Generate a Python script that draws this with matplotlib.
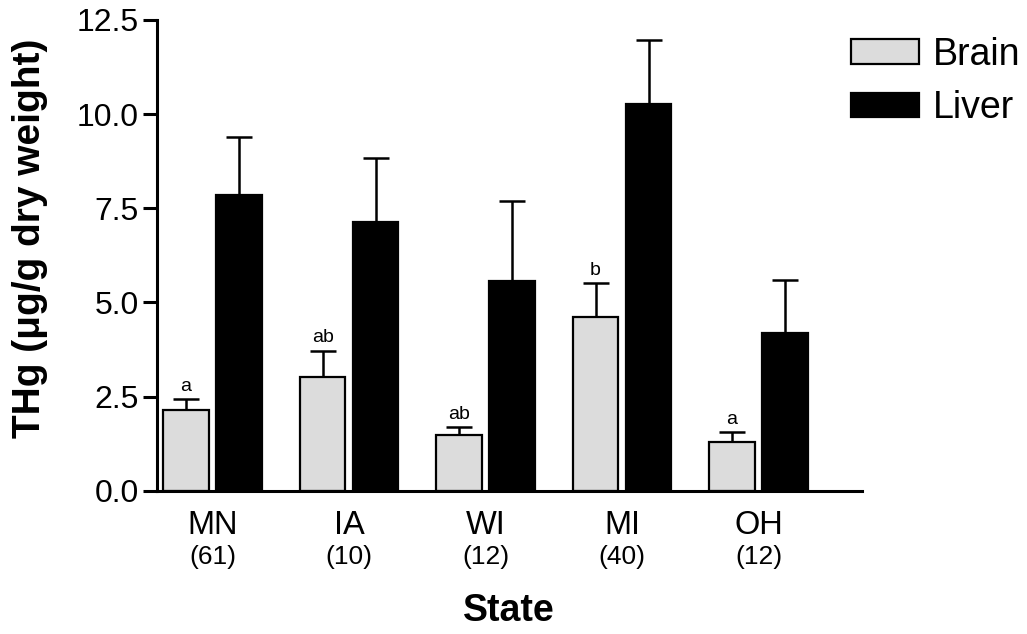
#!/usr/bin/env python3
# -*- coding: utf-8 -*-
"""
Mean total mercury (THg) in brain and liver tissue by state,
with standard error bars, group letters and sample sizes.
"""

import numpy as np
from matplotlib import pyplot as plt

# data per state
states = ["MN", "IA", "WI", "MI", "OH"]
n_samples = ["(61)", "(10)", "(12)", "(40)", "(12)"]
brain_mean = [2.15, 3.01, 1.47, 4.60, 1.29]
brain_err = [0.29, 0.71, 0.23, 0.92, 0.26]
liver_mean = [7.85, 7.13, 5.56, 10.27, 4.20]
liver_err = [1.55, 1.70, 2.12, 1.70, 1.40]
brain_letters = ["a", "ab", "ab", "b", "a"]

plt.rcParams['font.family'] = ['Liberation Sans', 'DejaVu Sans']

fig = plt.figure(figsize=(10.27, 6.34), dpi=100)
ax = fig.add_axes([0.1529, 0.226, 0.6864, 0.7425])

x = np.arange(len(states))
width = 0.335
offset = 0.194

# bars
ax.bar(x - offset, brain_mean, width, color='#dcdcdc', edgecolor='black',
       linewidth=1.6, label='Brain', zorder=2)
ax.bar(x + offset, liver_mean, width, color='black', edgecolor='black',
       linewidth=1.6, label='Liver', zorder=2)

# upper error bars only
zeros = [0] * len(states)
ax.errorbar(x - offset, brain_mean, yerr=[zeros, brain_err], fmt='none',
            ecolor='black', elinewidth=1.8, capsize=9.5, capthick=1.8,
            zorder=1)
ax.errorbar(x + offset, liver_mean, yerr=[zeros, liver_err], fmt='none',
            ecolor='black', elinewidth=1.8, capsize=9.5, capthick=1.8,
            zorder=1)

# group letters above the brain bars
for xi, m, e, lab in zip(x, brain_mean, brain_err, brain_letters):
    ax.annotate(lab, (xi - offset, m + e), xytext=(0, 3),
                textcoords='offset points', ha='center', va='bottom',
                fontsize=14)

# axes limits, spines and ticks
yticks = [0, 2.5, 5.0, 7.5, 10.0, 12.5]
ax.set_xlim(-0.407, 4.758)
ax.set_ylim(0, 12.5)
ax.set_yticks(yticks)
ax.set_yticklabels([f"{v:.1f}" for v in yticks])
ax.spines['top'].set_visible(False)
ax.spines['right'].set_visible(False)
for side in ['left', 'bottom']:
    ax.spines[side].set_linewidth(2.2)
ax.tick_params(axis='y', direction='out', length=10, width=2.2,
               labelsize=23, pad=3)
ax.set_xticks(x)
ax.set_xticklabels(states)
ax.tick_params(axis='x', length=0, labelsize=23.5, pad=14)

# sample sizes under the state names
for xi, n in zip(x, n_samples):
    ax.text(xi, -0.116, n, transform=ax.get_xaxis_transform(),
            ha='center', va='top', fontsize=19)

fig.text(0.4957, 1 - 611 / 634, 'State', ha='center', va='center',
         fontsize=27, fontweight='bold')
fig.text(30 / 1027, 1 - 238 / 634, 'THg (\u03bcg/g dry weight)',
         rotation=90, ha='center', va='center', fontsize=28,
         fontweight='bold')

ax.legend(loc='upper left', bbox_to_anchor=(851 / 1027, 1 - 37 / 634),
          bbox_transform=fig.transFigure, frameon=False, fontsize=27,
          handlelength=1.82, handleheight=0.64, handletextpad=0.35,
          labelspacing=0.46, borderpad=0, borderaxespad=0)

fig.savefig("out.png", dpi=100)
